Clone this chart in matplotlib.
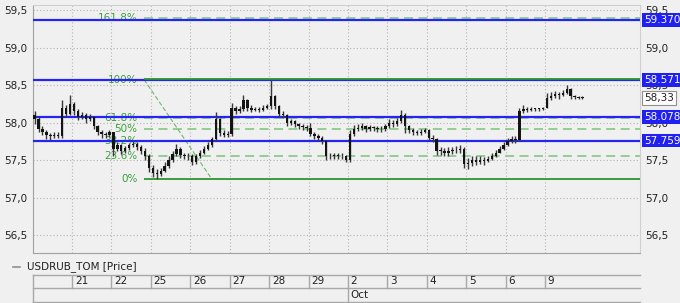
import numpy as np
import matplotlib
matplotlib.use("Agg")
import matplotlib.pyplot as plt

plt.rcParams['font.family'] = ['DejaVu Sans']

# trading days shown on the axis (first day is the unlabeled 20 Sep)
day_labels = ["", "21", "22", "25", "26", "27", "28", "29", "2", "3", "4", "5", "6", "9"]
month_label = "Oct"
month_start = 8
bars_per_day = 10

closes = [
    58.05, 57.92, 57.87, 57.83, 57.82, 57.84, 57.82, 58.20, 58.12, 58.25,
    58.15, 58.08, 58.10, 58.05, 58.07, 57.95, 57.88, 57.85, 57.83, 57.87,
    57.65, 57.70, 57.62, 57.66, 57.70, 57.72, 57.68, 57.62, 57.55, 57.40,
    57.33, 57.32, 57.36, 57.42, 57.50, 57.58, 57.65, 57.57, 57.56, 57.55,
    57.48, 57.55, 57.60, 57.65, 57.70, 57.78, 58.05, 57.86, 57.84, 57.85,
    58.20, 58.15, 58.18, 58.30, 58.20, 58.17, 58.18, 58.17, 58.20, 58.22,
    58.35, 58.22, 58.12, 58.10, 58.00, 58.02, 57.98, 57.96, 57.94, 57.93,
    57.85, 57.82, 57.80, 57.76, 57.55, 57.55, 57.57, 57.56, 57.55, 57.50,
    57.85, 57.92, 57.93, 57.95, 57.92, 57.94, 57.93, 57.92, 57.91, 57.95,
    58.00, 57.98, 58.02, 58.10, 57.95, 57.90, 57.87, 57.86, 57.88, 57.90,
    57.80, 57.78, 57.62, 57.62, 57.60, 57.62, 57.63, 57.64, 57.65, 57.45,
    57.46, 57.50, 57.48, 57.50, 57.49, 57.52, 57.55, 57.60, 57.65, 57.70,
    57.76, 57.78, 57.77, 58.15, 58.18, 58.17, 58.18, 58.18, 58.18, 58.19,
    58.33, 58.36, 58.38, 58.37, 58.40, 58.45, 58.35, 58.34, 58.33, 58.33,
]
highs = [
    58.15, 58.07, 57.95, 57.90, 57.86, 57.87, 57.87, 58.30, 58.24, 58.37,
    58.28, 58.18, 58.14, 58.13, 58.12, 58.08, 57.97, 57.90, 57.88, 57.90,
    57.88, 57.74, 57.72, 57.69, 57.73, 57.76, 57.74, 57.70, 57.66, 57.58,
    57.43, 57.38, 57.40, 57.47, 57.55, 57.62, 57.72, 57.67, 57.60, 57.59,
    57.58, 57.58, 57.64, 57.69, 57.74, 57.81, 58.14, 58.06, 57.90, 57.89,
    58.26, 58.22, 58.22, 58.37, 58.32, 58.23, 58.21, 58.21, 58.23, 58.25,
    58.571, 58.37, 58.24, 58.15, 58.12, 58.05, 58.04, 58.00, 57.98, 57.97,
    58.00, 57.88, 57.85, 57.82, 57.77, 57.60, 57.60, 57.60, 57.59, 57.57,
    57.90, 57.97, 57.98, 57.99, 57.97, 57.97, 57.96, 57.96, 57.95, 57.98,
    58.05, 58.03, 58.06, 58.17, 58.13, 57.97, 57.93, 57.90, 57.91, 57.93,
    57.92, 57.83, 57.80, 57.67, 57.66, 57.67, 57.68, 57.69, 57.70, 57.67,
    57.53, 57.56, 57.55, 57.55, 57.54, 57.56, 57.59, 57.64, 57.69, 57.74,
    57.80, 57.82, 57.82, 58.20, 58.23, 58.21, 58.21, 58.20, 58.20, 58.21,
    58.40, 58.41, 58.42, 58.41, 58.44, 58.50, 58.46, 58.37, 58.36, 58.35,
]
lows = [
    57.98, 57.88, 57.83, 57.78, 57.77, 57.79, 57.79, 57.80, 58.08, 58.10,
    58.10, 58.04, 58.05, 58.00, 58.02, 57.92, 57.83, 57.80, 57.79, 57.81,
    57.56, 57.62, 57.58, 57.60, 57.64, 57.67, 57.64, 57.58, 57.50, 57.34,
    57.27, 57.25, 57.29, 57.34, 57.40, 57.48, 57.55, 57.53, 57.52, 57.50,
    57.43, 57.45, 57.53, 57.58, 57.63, 57.68, 57.76, 57.82, 57.81, 57.81,
    57.82, 58.11, 58.13, 58.15, 58.16, 58.14, 58.15, 58.14, 58.15, 58.18,
    58.18, 58.18, 58.08, 58.06, 57.96, 57.97, 57.94, 57.92, 57.90, 57.89,
    57.82, 57.78, 57.76, 57.72, 57.50, 57.51, 57.52, 57.52, 57.51, 57.47,
    57.48, 57.82, 57.89, 57.90, 57.88, 57.89, 57.89, 57.88, 57.88, 57.89,
    57.93, 57.94, 57.96, 58.00, 57.86, 57.86, 57.83, 57.83, 57.84, 57.86,
    57.76, 57.74, 57.57, 57.57, 57.55, 57.56, 57.58, 57.59, 57.60, 57.40,
    57.38, 57.42, 57.43, 57.45, 57.44, 57.47, 57.50, 57.54, 57.59, 57.64,
    57.69, 57.73, 57.73, 57.76, 58.13, 58.14, 58.16, 58.16, 58.16, 58.17,
    58.19, 58.30, 58.33, 58.32, 58.35, 58.38, 58.32, 58.31, 58.31, 58.31,
]
first_open = 58.10
last_price = 58.33

# horizontal levels (blue) and fibonacci retracement
blue_levels = [59.370, 58.571, 58.078, 57.759]
fib_low, fib_high = 57.243, 58.571
fib_ratios = [0.0, 0.236, 0.382, 0.5, 0.618, 1.0, 1.618]
fib_names = ["0%", "23.6%", "38.2%", "50%", "61.8%", "100%", "161.8%"]
fib_start = 2.83      # x (days) where the fib lines begin
fib_diag_end = 4.55   # x where the trend line reaches the low
yticks = [56.5, 57.0, 57.5, 58.0, 58.5, 59.0, 59.5]

bg = '#f0f0f0'
W, H = 680, 303
fig = plt.figure(figsize=(W / 100, H / 100), dpi=100, facecolor=bg)
ax = fig.add_axes([33 / W, 1 - 253 / H, (640 - 33) / W, (253 - 5) / H], facecolor=bg)

n = len(closes)
xs = np.array([i // bars_per_day + (i % bars_per_day + 0.5) / bars_per_day for i in range(n)])
opens = np.array([first_open] + closes[:-1])
closes_a = np.array(closes)
body_lo = np.minimum(opens, closes_a)
body_h = np.maximum(np.abs(closes_a - opens), 0.01)

ax.set_xlim(0.01, 15.41)
ax.set_ylim(56.26, 59.567)

# grid
for d in range(1, len(day_labels)):
    ax.axvline(d, color='#b4b4b4', lw=0.8, ls=(0, (1, 2)), zorder=1)
for yv in yticks:
    ax.axhline(yv, color='#b4b4b4', lw=0.8, ls=(0, (1, 2)), zorder=1)

# fib lines
fib_vals = [fib_low + r * (fib_high - fib_low) for r in fib_ratios]
for r, v, name in zip(fib_ratios, fib_vals, fib_names):
    if r in (0.0, 1.0):
        off = 0.006 if r == 1.0 else 0
        ax.plot([fib_start, 15.41], [v + off, v + off],
                color='#2e962e', lw=1.3, zorder=4, solid_capstyle='butt')
    else:
        ax.plot([fib_start, 15.41], [v, v], color='#8ccb8c', lw=1.3,
                ls=(0, (5, 3)), zorder=2)
    ax.text(2.66, v, name, color='#3aa03a', fontsize=7.5, ha='right', va='center', zorder=2)
ax.plot([fib_start, fib_diag_end], [fib_high, fib_low], color='#6cba6c', lw=0.8,
        ls=(0, (4, 2)), zorder=2)

# blue levels
for v in blue_levels:
    ax.axhline(v, color='#2424f4', lw=1.6, zorder=3)

# bars
ax.vlines(xs, lows, highs, color='#383838', lw=1.0, zorder=5)
ax.bar(xs, body_h, bottom=body_lo, width=0.06, color='#141414', zorder=6)

for s in ['left', 'bottom']:
    ax.spines[s].set_color('#a0a0a0')
for s in ['top', 'right']:
    ax.spines[s].set_color('#d0d0d0')
ax.set_xticks([])
ax.set_yticks(yticks)
ax.set_yticklabels([f"{v:.1f}".replace('.', ',') for v in yticks], fontsize=7.5, color='#202020')
ax.tick_params(axis='y', length=0, pad=4, labelleft=True, labelright=True)

# right-hand value boxes
for v in blue_levels:
    ax.text(1.007, v, f"{v:.3f}", transform=ax.get_yaxis_transform(), fontsize=7.5,
            color='white', ha='left', va='center', zorder=10, clip_on=False,
            bbox=dict(boxstyle='square,pad=0.18', fc='#2020f0', ec='none'))
ax.text(1.007, last_price, f"{last_price:.2f}".replace('.', ','),
        transform=ax.get_yaxis_transform(), fontsize=7.5, color='#202020',
        ha='left', va='center', zorder=10, clip_on=False,
        bbox=dict(boxstyle='square,pad=0.2', fc='white', ec='#909090', lw=0.8))

# legend line
fig.lines.append(plt.Line2D([13 / W, 20 / W], [1 - 267 / H] * 2, color='#909090', lw=1.2,
                            transform=fig.transFigure))
fig.text(27 / W, 1 - 267 / H, "USDRUB_TOM [Price]", fontsize=7.5, color='#202020', va='center')

# date table
tx = fig.add_axes([33 / W, 1 - 302 / H, (640 - 33) / W, (302 - 275) / H], facecolor=bg)
tx.set_xlim(ax.get_xlim())
tx.set_ylim(0, 27)
tx.axis('off')
tc = '#a8a8a8'
tx.plot([0.01, 15.41], [27, 27], color=tc, lw=1.0, clip_on=False)
tx.plot([0.01, 15.41], [14, 14], color=tc, lw=1.0, clip_on=False)
tx.plot([0.01, 15.41], [0, 0], color=tc, lw=1.0, clip_on=False)
tx.plot([0.01, 0.01], [0, 27], color=tc, lw=1.0, clip_on=False)
for d, lab in enumerate(day_labels):
    if d == 0:
        continue
    tx.plot([d, d], [14, 27], color=tc, lw=1.0)
    tx.text(d + 0.07, 20.5, lab, fontsize=7.5, color='#202020', va='center', ha='left')
tx.plot([month_start, month_start], [0, 14], color=tc, lw=1.0)
tx.text(month_start + 0.07, 7, month_label, fontsize=7.5, color='#202020', va='center', ha='left')

fig.savefig('out.png', dpi=100, facecolor=bg)
